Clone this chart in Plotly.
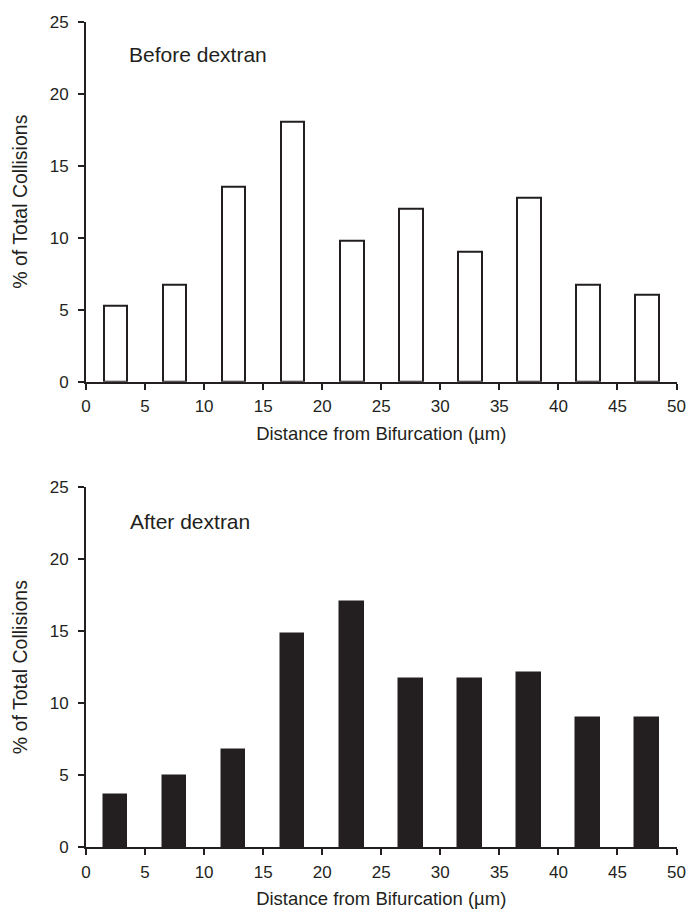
import plotly.graph_objects as go

# Data
bin_centers = [2.5, 7.5, 12.5, 17.5, 22.5, 27.5, 32.5, 37.5, 42.5, 47.5]
before_dextran = [5.26, 6.77, 13.53, 18.05, 9.77, 12.03, 9.02, 12.78, 6.77, 6.02]
after_dextran = [3.6, 4.95, 6.75, 14.8, 17.0, 11.65, 11.65, 12.1, 9.0, 9.0]
x_ticks = [0, 5, 10, 15, 20, 25, 30, 35, 40, 45, 50]
y_ticks = [0, 5, 10, 15, 20, 25]
panel_labels = ["Before dextran", "After dextran"]
x_title = "Distance from Bifurcation (µm)"
y_title = "% of Total Collisions"

INK = "#231f20"
FONT = "Liberation Sans, Arial, Helvetica, sans-serif"
W, H = 687, 909

fig = go.Figure()
fig.add_trace(go.Bar(x=bin_centers, y=before_dextran, width=2.0,
                     marker=dict(color="white", line=dict(color=INK, width=2)),
                     xaxis="x", yaxis="y", showlegend=False))
fig.add_trace(go.Bar(x=bin_centers, y=after_dextran, width=2.0,
                     marker=dict(color=INK, line=dict(color=INK, width=1.5)),
                     xaxis="x2", yaxis="y2", showlegend=False))

xdom = [86 / W, 676.5 / W]
top_dom = [(H - 381.7) / H, (H - 21.7) / H]
bot_dom = [(H - 847.3) / H, (H - 487.0) / H]

def xaxis(anchor):
    return dict(domain=xdom, anchor=anchor, range=[0, 50], tickvals=x_ticks,
                showline=True, linecolor=INK, linewidth=2, ticks="outside",
                ticklen=6, tickwidth=1.5, tickcolor=INK, showgrid=False,
                zeroline=False, ticklabelstandoff=2, automargin=False,
                ticklabeloverflow="allow",
                tickfont=dict(family=FONT, size=17, color=INK),
                title=dict(text=x_title, font=dict(family=FONT, size=18.5, color=INK),
                           standoff=12))

def yaxis(anchor, dom):
    return dict(domain=dom, anchor=anchor, range=[0, 25], tickvals=y_ticks,
                showline=True, linecolor=INK, linewidth=2, ticks="outside",
                ticklen=6, tickwidth=1.5, tickcolor=INK, showgrid=False,
                zeroline=False, ticklabelstandoff=6, automargin=False,
                ticklabeloverflow="allow",
                tickfont=dict(family=FONT, size=17, color=INK),
                title=dict(text=y_title, font=dict(family=FONT, size=19.5, color=INK),
                           standoff=17))

fig.update_layout(
    width=W, height=H, margin=dict(l=0, r=0, t=0, b=0, autoexpand=False),
    paper_bgcolor="white", plot_bgcolor="white",
    xaxis=xaxis("y"), yaxis=yaxis("x", top_dom),
    xaxis2=xaxis("y2"), yaxis2=yaxis("x2", bot_dom),
    bargap=0,
    annotations=[
        dict(text=panel_labels[0], x=3.45, y=22.75, xref="x", yref="y",
             xanchor="left", yanchor="middle", showarrow=False,
             font=dict(family=FONT, size=21, color=INK)),
        dict(text=panel_labels[1], x=3.55, y=22.6, xref="x2", yref="y2",
             xanchor="left", yanchor="middle", showarrow=False,
             font=dict(family=FONT, size=21, color=INK)),
    ],
)

fig.write_html("out.html")
